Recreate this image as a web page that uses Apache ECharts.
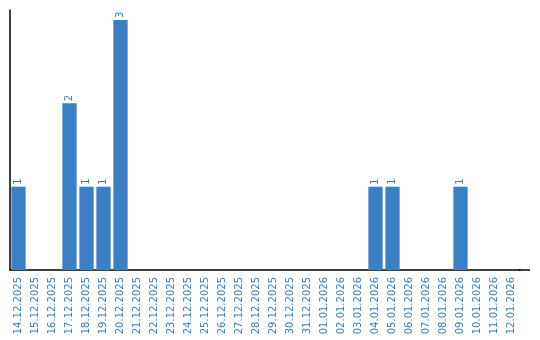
<!DOCTYPE html>
<html><head><meta charset="utf-8">
<script src="https://cdn.jsdelivr.net/npm/echarts@6/dist/echarts.min.js"></script>
<style>html,body{margin:0;padding:0;background:#fff}#c{width:540px;height:340px}</style>
</head><body><div id="c"></div>
<script>
var categories = ["14.12.2025","15.12.2025","16.12.2025","17.12.2025","18.12.2025","19.12.2025","20.12.2025","21.12.2025","22.12.2025","23.12.2025","24.12.2025","25.12.2025","26.12.2025","27.12.2025","28.12.2025","29.12.2025","30.12.2025","31.12.2025","01.01.2026","02.01.2026","03.01.2026","04.01.2026","05.01.2026","06.01.2026","07.01.2026","08.01.2026","09.01.2026","10.01.2026","11.01.2026","12.01.2026"];
var values = [1,0,0,2,1,1,3,0,0,0,0,0,0,0,0,0,0,0,0,0,0,1,1,0,0,0,1,0,0,0];
var chart = echarts.init(document.getElementById('c'), null, {renderer:'canvas'});
chart.setOption({
  animation:false,
  grid:{left:10,right:20,top:10,bottom:70,containLabel:false},
  graphic:[{type:'line',shape:{x1:519,y1:270,x2:530,y2:270},style:{stroke:'#000',lineWidth:1.5},z:10}],
  xAxis:{type:'category',data:categories,
    axisLine:{lineStyle:{color:'#000',width:1.5}},
    axisTick:{show:false},
    axisLabel:{rotate:90,interval:0,fontSize:10,fontFamily:'DejaVu Sans',color:'#3a7cc2',margin:7}},
  yAxis:{type:'value',min:0,max:3.12,
    axisLine:{show:true,lineStyle:{color:'#000',width:1.5}},
    axisTick:{show:false},axisLabel:{show:false},splitLine:{show:false}},
  series:[{type:'bar',data:values.map(function(v){return v===0?null:v;}),barCategoryGap:'16%',
    itemStyle:{color:'#3b7fc4'},
    label:{show:true,position:'top',rotate:90,align:'left',verticalAlign:'middle',distance:2,fontSize:10,fontFamily:'DejaVu Sans',color:'#3a7cc2'}}]
});
</script></body></html>
